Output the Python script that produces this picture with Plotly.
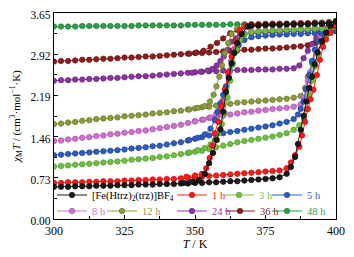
import plotly.graph_objects as go

# ---------------- data ----------------
# shared temperature grids (K)
T_HEAT_FLAT = [300, 302.5, 305, 307.5, 310, 312.5, 315, 317.5, 320, 322.5, 325, 327.5, 330,
               332.5, 335, 337.5, 340, 342.5, 345, 347.5, 350, 352.5, 355, 357.5, 360, 362.5,
               365, 367.5, 370, 372.5, 375, 377.5, 380]
T_COOL_FLAT = [400, 397.5, 395, 392.5, 390, 387.5, 385, 382.5, 380, 377.5, 375, 372.5, 370]

# [Fe(Htrz)2(trz)]BF4
black_heat = [0.57, 0.57, 0.57, 0.58, 0.58, 0.58, 0.59, 0.59, 0.59, 0.60, 0.60, 0.60, 0.61, 0.61, 0.61, 0.62, 0.62,
              0.62, 0.63, 0.63, 0.64, 0.64, 0.65, 0.65, 0.66, 0.67, 0.67, 0.68, 0.69, 0.70, 0.71, 0.72, 0.74]
black_heat_tail_T = [382.5, 384, 385.5, 386.5, 387.5, 388.5, 389.5, 390.5, 391.5, 392.5, 393.5, 395, 396.5, 398, 400]
black_heat_tail_v = [0.80, 0.92, 1.10, 1.33, 1.58, 1.83, 2.08, 2.32, 2.52, 2.74, 2.95, 3.15, 3.30, 3.42, 3.50]
black_cool = [3.50, 3.47, 3.46, 3.46, 3.45, 3.45, 3.45, 3.45, 3.44, 3.44, 3.44, 3.43, 3.43]
black_cool_tail_T = [368.8, 366.6, 365, 364, 363, 362, 361, 360, 359, 357.7, 356.4, 355, 353.5, 351.5, 349, 346]
black_cool_tail_v = [3.41, 3.28, 3.12, 2.94, 2.76, 2.50, 2.25, 1.90, 1.59, 1.40, 1.17, 0.99, 0.80, 0.69, 0.66, 0.64]

# 1 h
h1_heat = [0.64, 0.64, 0.65, 0.65, 0.65, 0.66, 0.66, 0.67, 0.67, 0.67, 0.68, 0.68, 0.69, 0.69, 0.70, 0.70, 0.71,
           0.71, 0.72, 0.73, 0.74, 0.75, 0.76, 0.77, 0.78, 0.79, 0.80, 0.81, 0.82, 0.83, 0.84, 0.85, 0.86]
h1_heat_tail_T = [382.5, 384, 385.5, 387, 388, 389, 390, 391, 392, 393.2, 394.3, 395.4, 396.5, 398, 400]
h1_heat_tail_v = [0.90, 1.00, 1.13, 1.28, 1.48, 1.72, 1.95, 2.12, 2.29, 2.55, 2.82, 3.05, 3.18, 3.30, 3.42]
h1_cool = [3.42, 3.46, 3.47, 3.47, 3.47, 3.47, 3.46, 3.46, 3.46, 3.46, 3.45, 3.45, 3.45]
h1_cool_tail_T = [368, 366, 364.5, 363, 361.8, 360.6, 359.5, 358.3, 357, 356.2, 355.2, 354, 352.5, 350, 347]
h1_cool_tail_v = [3.43, 3.35, 3.15, 2.88, 2.60, 2.30, 2.00, 1.72, 1.52, 1.30, 1.08, 0.90, 0.80, 0.77, 0.75]

# 3 h
h3_heat = [0.93, 0.94, 0.95, 0.96, 0.97, 0.98, 0.99, 1.00, 1.01, 1.02, 1.03, 1.05, 1.06, 1.07, 1.08, 1.10, 1.11,
           1.13, 1.15, 1.17, 1.19, 1.21, 1.24, 1.27, 1.30, 1.33, 1.36, 1.38, 1.40, 1.42, 1.44, 1.46, 1.49]
h3_heat_tail_T = [382.5, 385, 387, 388.6, 389.5, 390.5, 391.5, 392.5, 393.5, 395, 396.5, 398, 400]
h3_heat_tail_v = [1.52, 1.58, 1.66, 1.78, 1.95, 2.20, 2.45, 2.70, 2.92, 3.12, 3.25, 3.33, 3.40]
h3_cool = [3.40, 3.38, 3.37, 3.37, 3.36, 3.36, 3.35, 3.35, 3.34, 3.34, 3.33, 3.32, 3.31]
h3_cool_tail_T = [367.5, 366, 364.8, 363.5, 362.5, 361.5, 360.5, 359.5, 358.3, 357, 355.5, 353.5, 351, 348]
h3_cool_tail_v = [3.27, 3.17, 3.00, 2.75, 2.45, 2.15, 1.88, 1.68, 1.52, 1.40, 1.32, 1.26, 1.22, 1.18]

# 5 h
h5_heat = [1.13, 1.14, 1.15, 1.16, 1.17, 1.18, 1.19, 1.20, 1.21, 1.22, 1.23, 1.25, 1.26, 1.27, 1.29, 1.30, 1.32,
           1.34, 1.36, 1.39, 1.42, 1.45, 1.48, 1.50, 1.52, 1.54, 1.56, 1.58, 1.60, 1.62, 1.64, 1.66, 1.69]
h5_heat_tail_T = [382.5, 385, 386.5, 387.5, 388.5, 389.5, 390.5, 391.5, 392.5, 394, 396, 398, 400]
h5_heat_tail_v = [1.72, 1.77, 1.85, 1.95, 2.08, 2.30, 2.55, 2.80, 3.00, 3.15, 3.25, 3.30, 3.33]
h5_cool = [3.33, 3.31, 3.30, 3.29, 3.29, 3.28, 3.28, 3.27, 3.27, 3.26, 3.25, 3.24, 3.22]
h5_cool_tail_T = [367.5, 365.5, 364, 363, 362, 361, 360, 359, 358, 357, 355.5, 353.5, 351, 348]
h5_cool_tail_v = [3.17, 3.08, 2.95, 2.73, 2.50, 2.35, 2.20, 2.05, 1.90, 1.75, 1.60, 1.50, 1.44, 1.40]

# 8 h
h8_heat = [1.38, 1.39, 1.41, 1.42, 1.44, 1.45, 1.47, 1.48, 1.50, 1.51, 1.53, 1.54, 1.56, 1.57, 1.59, 1.61, 1.63,
           1.65, 1.67, 1.70, 1.73, 1.76, 1.79, 1.81, 1.83, 1.85, 1.87, 1.89, 1.90, 1.92, 1.93, 1.95, 1.96]
h8_heat_tail_T = [382.5, 385, 387.5, 388.5, 389.3, 390, 390.8, 391.8, 393, 394.5, 396.5, 398.5, 400]
h8_heat_tail_v = [1.97, 1.99, 2.03, 2.15, 2.30, 2.45, 2.60, 2.80, 3.00, 3.20, 3.33, 3.40, 3.45]
h8_cool = [3.45, 3.41, 3.39, 3.38, 3.37, 3.37, 3.36, 3.36, 3.35, 3.35, 3.34, 3.33, 3.32]
h8_cool_tail_T = [367.5, 365.5, 364, 362.8, 361.8, 360.8, 359.8, 358.8, 357.5, 355.5, 353, 350]
h8_cool_tail_v = [3.28, 3.18, 3.02, 2.80, 2.55, 2.30, 2.10, 1.95, 1.86, 1.80, 1.76, 1.73]

# 12 h
h12_heat = [1.68, 1.69, 1.71, 1.72, 1.74, 1.75, 1.77, 1.78, 1.79, 1.80, 1.82, 1.83, 1.84, 1.85, 1.87, 1.88, 1.89,
            1.91, 1.92, 1.94, 1.96, 1.98, 1.99, 2.01, 2.03, 2.04, 2.06, 2.07, 2.08, 2.09, 2.10, 2.11, 2.12]
h12_heat_tail_T = [382.5, 385, 387.5, 389, 390, 391.5, 393, 394, 395.5, 397.5, 400]
h12_heat_tail_v = [2.13, 2.15, 2.18, 2.32, 2.52, 2.76, 2.99, 3.17, 3.33, 3.43, 3.50]
h12_cool = [3.50, 3.48, 3.47, 3.47, 3.46, 3.46, 3.46, 3.45, 3.45, 3.45, 3.44, 3.44, 3.43]
h12_cool_tail_T = [367.5, 365, 363, 361.8, 360.6, 359.6, 358.6, 357.6, 356.6, 355.3, 353.5, 351, 348]
h12_cool_tail_v = [3.42, 3.38, 3.28, 3.12, 2.94, 2.72, 2.52, 2.35, 2.20, 2.08, 2.00, 1.97, 1.94]

# 24 h
h24_heat = [2.45, 2.46, 2.46, 2.47, 2.47, 2.48, 2.48, 2.49, 2.50, 2.50, 2.51, 2.52, 2.53, 2.53, 2.54, 2.55, 2.56,
            2.57, 2.58, 2.59, 2.60, 2.61, 2.62, 2.62, 2.63, 2.63, 2.64, 2.64, 2.64, 2.65, 2.65, 2.65, 2.66]
h24_heat_tail_T = [382.5, 385, 387, 388.5, 390, 391.5, 393, 394.5, 396, 398, 400]
h24_heat_tail_v = [2.66, 2.67, 2.72, 2.85, 2.98, 3.10, 3.20, 3.30, 3.38, 3.44, 3.50]
h24_cool = [3.45, 3.38, 3.35, 3.34, 3.33, 3.33, 3.32, 3.32, 3.31, 3.31, 3.30, 3.30, 3.29]
h24_cool_tail_T = [367.5, 366, 364.5, 363, 361.5, 360.2, 359, 357.7, 356.2, 354.5, 352, 349]
h24_cool_tail_v = [3.28, 3.26, 3.20, 3.14, 3.00, 2.88, 2.80, 2.72, 2.66, 2.63, 2.61, 2.59]

# 36 h
h36_heat = [2.79, 2.80, 2.80, 2.81, 2.82, 2.82, 2.83, 2.84, 2.84, 2.85, 2.86, 2.86, 2.87, 2.88, 2.88, 2.89, 2.90,
            2.91, 2.92, 2.93, 2.94, 2.94, 2.95, 2.96, 2.97, 2.98, 2.99, 3.00, 3.00, 3.01, 3.02, 3.02, 3.03]
h36_heat_tail_T = [382.5, 385, 387.5, 390, 392.5, 395, 397.5, 400]
h36_heat_tail_v = [3.04, 3.05, 3.06, 3.08, 3.12, 3.20, 3.35, 3.50]
h36_cool = [3.50, 3.48, 3.47, 3.47, 3.46, 3.46, 3.45, 3.45, 3.44, 3.44, 3.43, 3.43, 3.42]
h36_cool_tail_T = [367.5, 365, 362.5, 360, 357.8, 355.5, 353, 350.5, 348]
h36_cool_tail_v = [3.40, 3.35, 3.29, 3.20, 3.12, 3.05, 2.98, 2.95, 2.93]

# 48 h
h48_heat = [3.41, 3.41, 3.41, 3.41, 3.42, 3.42, 3.42, 3.42, 3.42, 3.42, 3.42, 3.42, 3.43, 3.43, 3.43, 3.43, 3.43,
            3.43, 3.43, 3.44, 3.44, 3.44, 3.44, 3.44, 3.44, 3.45, 3.45, 3.45, 3.45, 3.45, 3.46, 3.46, 3.46]
h48_heat_tail_T = [382.5, 385, 387.5, 390, 392.5, 395, 397.5, 400]
h48_heat_tail_v = [3.46, 3.47, 3.47, 3.47, 3.48, 3.48, 3.49, 3.50]

Y_TICKS = [0.00, 0.73, 1.46, 2.19, 2.92, 3.65]
X_TICKS = [300, 325, 350, 375, 400]

# ---------------- figure ----------------
FONT = "Liberation Serif, Times New Roman, serif"

series = [
    # name, color, marker edge, heating branch, cooling branch, legend id
    ("48 h", "#2E9E4C", "#1C6E32", (T_HEAT_FLAT + h48_heat_tail_T, h48_heat + h48_heat_tail_v), None, "legend9"),
    ("36 h", "#8B1E1E", "#5E1010", (T_HEAT_FLAT + h36_heat_tail_T, h36_heat + h36_heat_tail_v),
     (T_COOL_FLAT + h36_cool_tail_T, h36_cool + h36_cool_tail_v), "legend8"),
    ("24 h", "#8B35A0", "#5E2070", (T_HEAT_FLAT + h24_heat_tail_T, h24_heat + h24_heat_tail_v),
     (T_COOL_FLAT + h24_cool_tail_T, h24_cool + h24_cool_tail_v), "legend7"),
    ("12 h", "#8E9B3C", "#626C24", (T_HEAT_FLAT + h12_heat_tail_T, h12_heat + h12_heat_tail_v),
     (T_COOL_FLAT + h12_cool_tail_T, h12_cool + h12_cool_tail_v), "legend6"),
    ("8 h", "#D070D0", "#9A449A", (T_HEAT_FLAT + h8_heat_tail_T, h8_heat + h8_heat_tail_v),
     (T_COOL_FLAT + h8_cool_tail_T, h8_cool + h8_cool_tail_v), "legend5"),
    ("5 h", "#2D5CC0", "#1B3C86", (T_HEAT_FLAT + h5_heat_tail_T, h5_heat + h5_heat_tail_v),
     (T_COOL_FLAT + h5_cool_tail_T, h5_cool + h5_cool_tail_v), "legend4"),
    ("3 h", "#70C040", "#4A8A26", (T_HEAT_FLAT + h3_heat_tail_T, h3_heat + h3_heat_tail_v),
     (T_COOL_FLAT + h3_cool_tail_T, h3_cool + h3_cool_tail_v), "legend3"),
    ("1 h", "#FF1A1A", "#B00C0C", (T_HEAT_FLAT + h1_heat_tail_T, h1_heat + h1_heat_tail_v),
     (T_COOL_FLAT + h1_cool_tail_T, h1_cool + h1_cool_tail_v), "legend2"),
    ("[Fe(Htrz)<sub>2</sub>(trz)]BF<sub>4</sub>", "#1A1A1A", "#000000",
     (T_HEAT_FLAT + black_heat_tail_T, black_heat + black_heat_tail_v),
     (T_COOL_FLAT + black_cool_tail_T, black_cool + black_cool_tail_v), "legend"),
]

fig = go.Figure()
for name, color, edge, heat, cool, leg in series:
    xs = list(heat[0])
    ys = list(heat[1])
    if cool is not None:
        xs += list(cool[0])
        ys += list(cool[1])
    fig.add_trace(go.Scatter(
        x=xs, y=ys, mode="lines+markers", name=name, legend=leg,
        line=dict(color=color, width=1),
        marker=dict(symbol="circle", size=5.5, color=color, line=dict(color=edge, width=0.6)),
    ))

# The page body has an 8 px default margin, so the figure is laid out 8 px
# smaller and offset; target plot area in window pixels: x 54..336, y 13..219
OFF = 8
WIN_W, WIN_H = 354, 257
L, R, TOP, BOT = 54, 336, 13, 219


def px2paper(xp, yp):
    return (xp - L) / (R - L), (BOT - yp) / (BOT - TOP)


legend_text_pos = {
    "legend": (92, 195), "legend2": (212, 195), "legend3": (259, 195), "legend4": (307, 195),
    "legend5": (92, 211), "legend6": (142, 211), "legend7": (212, 211), "legend8": (260, 211),
    "legend9": (307, 211),
}
legend_color = {
    "legend": "#000000", "legend2": "#FF1A1A", "legend3": "#70C040", "legend4": "#2D5CC0",
    "legend5": "#D070D0", "legend6": "#8E9B3C", "legend7": "#8B35A0", "legend8": "#8B1E1E",
    "legend9": "#2E9E4C",
}
legend_layout = {}
for key, (tx, ty) in legend_text_pos.items():
    xp, yp = px2paper(tx - 40, ty)
    legend_layout[key] = dict(
        x=xp, y=yp, xanchor="left", yanchor="middle", bgcolor="rgba(0,0,0,0)",
        borderwidth=0, font=dict(family=FONT, size=10.5, color=legend_color[key]),
        itemwidth=30, tracegroupgap=0,
    )

fig.update_layout(
    width=WIN_W - OFF, height=WIN_H - OFF,
    margin=dict(l=L - OFF, r=WIN_W - R, t=TOP - OFF, b=WIN_H - BOT),
    paper_bgcolor="white", plot_bgcolor="white",
    font=dict(family=FONT, size=12, color="black"),
    showlegend=True,
    **legend_layout,
)

fig.update_xaxes(
    range=[300, 400], tickvals=X_TICKS, ticktext=[str(v) for v in X_TICKS],
    ticks="inside", ticklen=4, tickwidth=1, tickcolor="black",
    minor=dict(dtick=12.5, tick0=300, ticks="inside", ticklen=2.5, tickcolor="black"),
    showline=True, linecolor="black", linewidth=1.2, mirror=True, showgrid=False, zeroline=False,
    tickfont=dict(family=FONT, size=12), automargin=False, ticklabeloverflow="allow",
    title=dict(text="<i>T</i> / K", font=dict(family=FONT, size=12), standoff=2),
)
fig.update_yaxes(
    range=[0, 3.65], tickvals=Y_TICKS, ticktext=["%.2f" % v for v in Y_TICKS],
    ticks="inside", ticklen=4, tickwidth=1, tickcolor="black",
    minor=dict(dtick=0.365, tick0=0, ticks="inside", ticklen=2.5, tickcolor="black"),
    showline=True, linecolor="black", linewidth=1.2, mirror=True, showgrid=False, zeroline=False,
    tickfont=dict(family=FONT, size=11.5), automargin=False, ticklabeloverflow="allow",
    ticklabelshift=2,
    title=dict(text="<i>χ</i><sub>M</sub><i>T</i> / (cm<sup>3</sup>·mol<sup>−1</sup>·K)",
               font=dict(family=FONT, size=11), standoff=12),
)

fig.write_html("out.html")
